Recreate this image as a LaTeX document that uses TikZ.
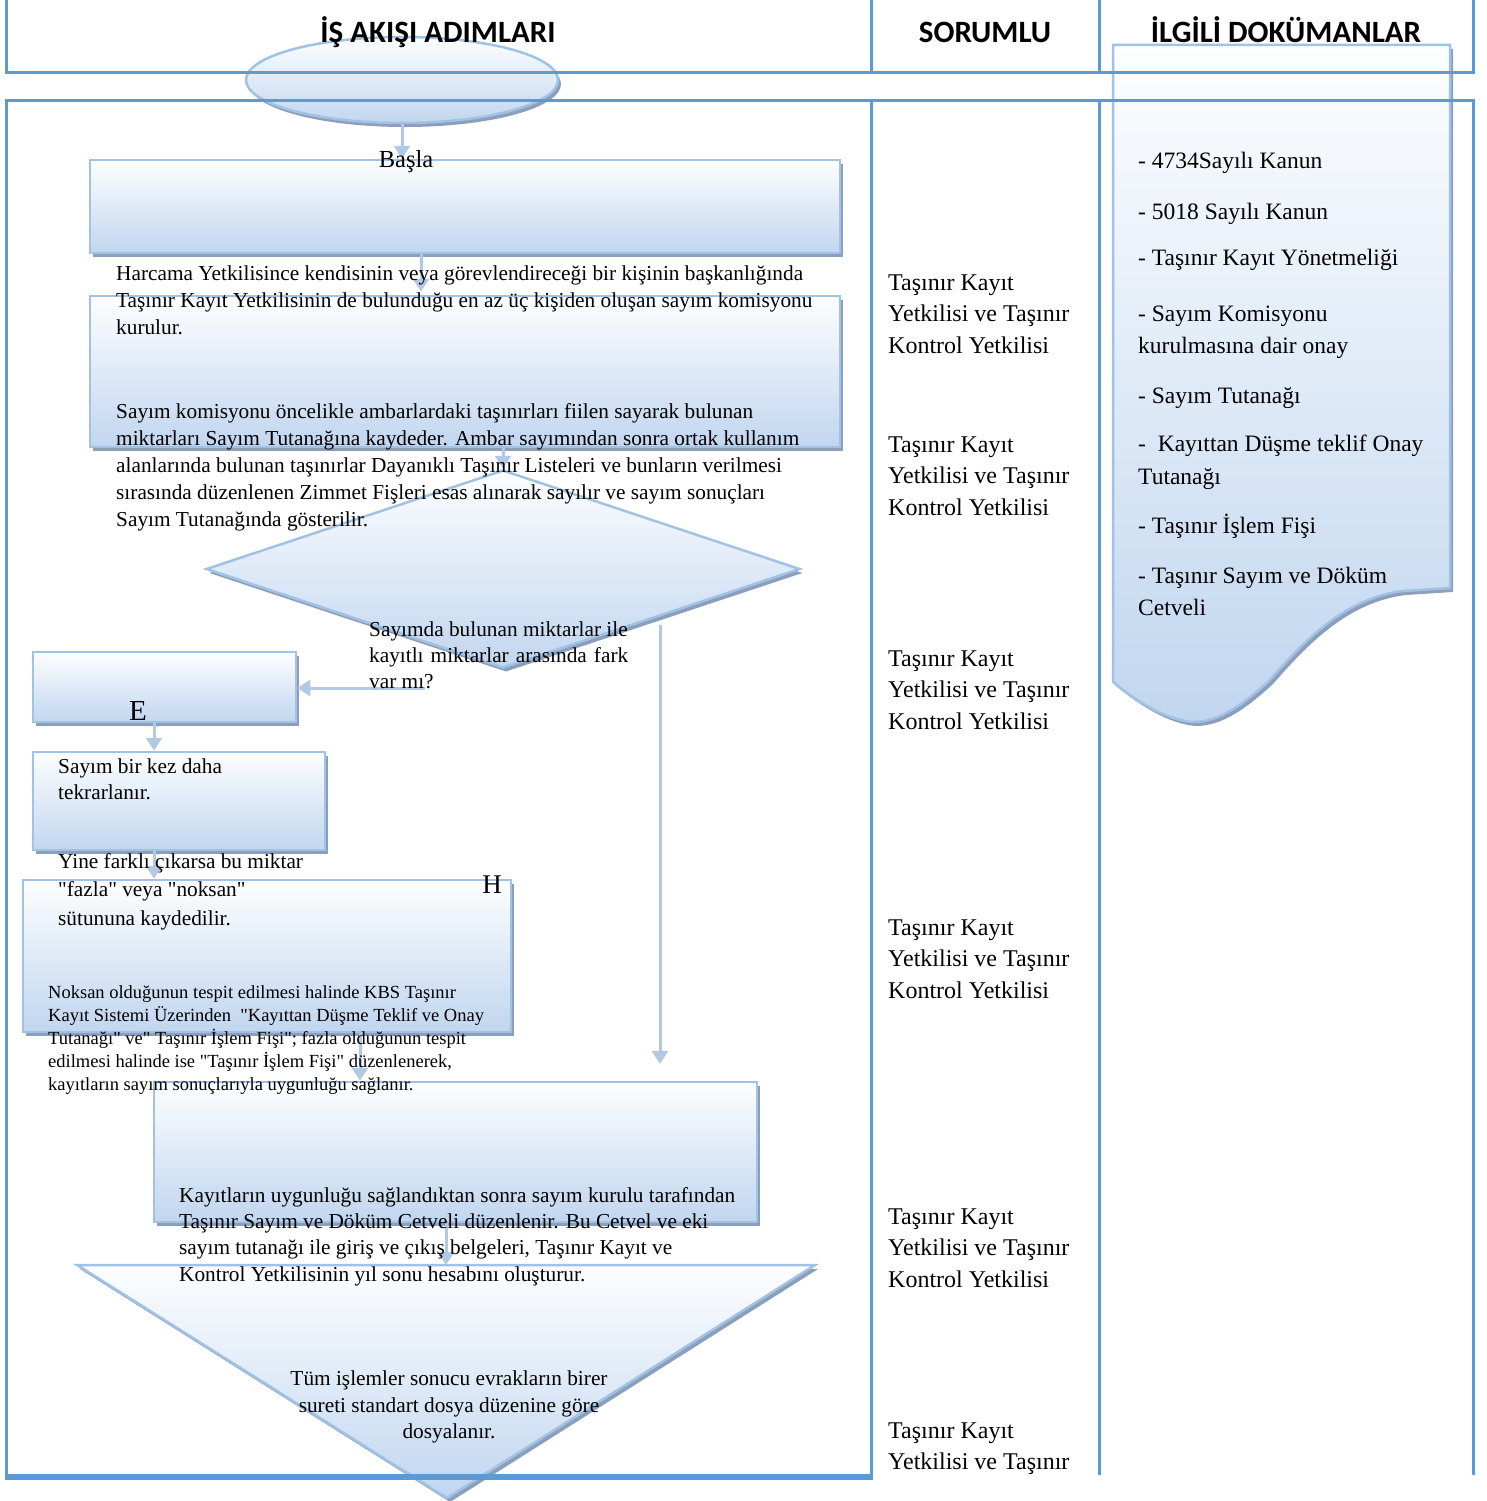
\documentclass[tikz,border=0pt]{standalone}
\usepackage{fontspec}
\setmainfont{Liberation Serif}[Ligatures=TeXOff]
\newfontfamily\hdrfont{Carlito}
\usetikzlibrary{arrows.meta,shapes.geometric,shadows,calc}
\definecolor{tblue}{RGB}{91,155,213}
\definecolor{sborder}{RGB}{160,194,229}
\definecolor{gbot}{RGB}{193,214,239}
\definecolor{gtop}{RGB}{253,254,255}
\definecolor{arrc}{RGB}{178,201,230}
\definecolor{shc}{RGB}{140,158,186}
\begin{document}
\begin{tikzpicture}[x=1pt,y=-1pt,
  tline/.style={draw=tblue, line width=3pt},
  shp/.style={draw=sborder, line width=2.5pt, top color=gtop, bottom color=gbot,
     drop shadow={shadow xshift=3pt, shadow yshift=-4pt, fill=shc, opacity=1}},
  boxnode/.style={shp, rectangle, inner sep=0pt},
  arr/.style={draw=arrc, line width=3pt, -{Triangle[width=16pt,length=13pt]}},
  txt/.style={anchor=north west, inner sep=0pt, align=left, font=\fontsize{21.3pt}{27pt}\selectfont},
  sor/.style={anchor=north west, inner sep=0pt, align=left, font=\fontsize{24pt}{31.5pt}\selectfont},
  hdr/.style={anchor=base, inner sep=0pt, font=\hdrfont\bfseries\fontsize{31pt}{31pt}\selectfont},
  big/.style={anchor=base, inner sep=0pt}
]
\useasboundingbox (0,0) rectangle (1487,1501);

% ---------- shapes ----------
\node[shp, ellipse, minimum width=312pt, minimum height=86pt, inner sep=0pt] (start) at (402,80) {};
\node[boxnode, minimum width=750pt, minimum height=93pt] (r1) at (465,206.5) {};
\node[boxnode, minimum width=750pt, minimum height=151pt] (r2) at (465,371.5) {};
\node[shp, diamond, minimum width=594pt, minimum height=198pt, inner sep=0pt] (dia) at (503,569) {};
\node[boxnode, minimum width=263pt, minimum height=70pt] (rE) at (164.5,687) {};
\node[boxnode, minimum width=292pt, minimum height=98pt] (rS) at (179,801) {};
\node[boxnode, minimum width=488pt, minimum height=152pt] (rH) at (267,956) {};
\node[boxnode, minimum width=603pt, minimum height=140pt] (rK) at (455.5,1152) {};

\coordinate (tL) at (77,1265);
\coordinate (tR) at (815,1265);
\coordinate (tB) at (447,1498);
\coordinate (tT) at (446,1265);
\path[shp] (tL) -- (tR) -- (tB) -- cycle;

% document shape
\path[shp] (1113,45) -- (1450,45) -- (1450,588) -- (1403,591)
   .. controls (1345,598) and (1305,640) .. (1270,680)
   .. controls (1245,703) and (1220,722) .. (1193,722)
   .. controls (1165,720) and (1135,700) .. (1113,682) -- cycle;

% ---------- connectors ----------
\coordinate (x1) at (421,0);
\coordinate (x5) at (154,0);
\coordinate (x7) at (360,0);
\coordinate (d1) at (425,688);
\coordinate (d2) at (660,625);
\coordinate (d2e) at (660,1064);
\draw[arr] (start.south) -- (r1.north -| start.south);
\draw[arr] (r1.south -| x1) -- ($(r2.north -| x1)+(0,-3)$);
\draw[arr] (r2.south -| dia.north) -- (dia.north);
\draw[arr] (d1) -- (rE.east |- d1);
\draw[arr] (d2) -- (d2e);
\draw[arr] (rE.south -| x5) -- (rS.north -| x5);
\draw[arr] (rS.south -| x5) -- (rH.north -| x5);
\draw[arr] (rH.south -| x7) -- (rK.north -| x7);
\draw[arr] (rK.south -| tT) -- (tT);

% ---------- table ----------
\draw[tline] (6,0) -- (6,73) -- (1473,73) -- (1473,0);
\draw[tline] (871,0) -- (871,73);
\draw[tline] (1099,0) -- (1099,73);
\draw[tline] (6,1476) -- (6,101) -- (1473,101) -- (1473,1475);
\draw[tline] (871,101) -- (871,1479);
\draw[tline] (1099,101) -- (1099,1475);
\draw[draw=tblue, line width=6pt] (4.5,1476.5) -- (872.5,1476.5);

% ---------- headers ----------
\node[hdr] (h1) at (438,43) {İŞ AKIŞI ADIMLARI};
\node[hdr] (h2) at (985,43) {SORUMLU};
\node[hdr] (h3) at (1286,43) {İLGİLİ DOKÜMANLAR};

% ---------- texts ----------
\node[big, font=\fontsize{24.5pt}{24.5pt}\selectfont] (basla) at (406,167) {Başla};
\node[big, font=\fontsize{29pt}{29pt}\selectfont] (lE) at (138,720) {E};
\node[big, font=\fontsize{27pt}{27pt}\selectfont] (lH) at (492,893) {H};

\node[txt] (t1) at (116,266) {Harcama Yetkilisince kendisinin veya görevlendireceği bir kişinin başkanlığında\\Taşınır Kayıt Yetkilisinin de bulunduğu en az üç kişiden oluşan sayım komisyonu\\kurulur.};
\node[txt] (t2) at (116,403) {Sayım komisyonu öncelikle ambarlardaki taşınırları fiilen sayarak bulunan\\miktarları Sayım Tutanağına kaydeder. Ambar sayımından sonra ortak kullanım\\alanlarında bulunan taşınırlar Dayanıklı Taşınır Listeleri ve bunların verilmesi\\sırasında düzenlenen Zimmet Fişleri esas alınarak sayılır ve sayım sonuçları\\Sayım Tutanağında gösterilir.};
\node[txt, font=\fontsize{21.3pt}{26pt}\selectfont] (t3) at (369,622) {Sayımda bulunan miktarlar ile\\\makebox[259pt][s]{kayıtlı miktarlar arasında fark}\\var mı?};
\node[txt, font=\fontsize{21.3pt}{26pt}\selectfont] (t4) at (58,759) {Sayım bir kez daha\\tekrarlanır.};
\node[txt, font=\fontsize{21.3pt}{28.5pt}\selectfont] (t5) at (58,853) {Yine farklı çıkarsa bu miktar\\"fazla" veya "noksan"\\sütununa kaydedilir.};
\node[txt, font=\fontsize{18.5pt}{23pt}\selectfont] (t6) at (48,985) {Noksan olduğunun tespit edilmesi halinde KBS Taşınır\\Kayıt Sistemi Üzerinden\ \ "Kayıttan Düşme Teklif ve Onay\\Tutanağı" ve" Taşınır İşlem Fişi"; fazla olduğunun tespit\\edilmesi halinde ise "Taşınır İşlem Fişi" düzenlenerek,\\kayıtların sayım sonuçlarıyla uygunluğu sağlanır.};
\node[txt, font=\fontsize{21.3pt}{26.3pt}\selectfont] (t7) at (179,1187) {Kayıtların uygunluğu sağlandıktan sonra sayım kurulu tarafından\\Taşınır Sayım ve Döküm Cetveli düzenlenir. Bu Cetvel ve eki\\sayım tutanağı ile giriş ve çıkış belgeleri, Taşınır Kayıt ve\\Kontrol Yetkilisinin yıl sonu hesabını oluşturur.};
\node[txt, anchor=north, align=center, font=\fontsize{21.3pt}{26.5pt}\selectfont] (t8) at (449,1371) {Tüm işlemler sonucu evrakların birer\\sureti standart dosya düzenine göre\\dosyalanır.};

\node[sor] (s1) at (888,274.5) {Taşınır Kayıt\\Yetkilisi ve Taşınır\\Kontrol Yetkilisi};
\node[sor] (s2) at (888,436.5) {Taşınır Kayıt\\Yetkilisi ve Taşınır\\Kontrol Yetkilisi};
\node[sor] (s3) at (888,650.5) {Taşınır Kayıt\\Yetkilisi ve Taşınır\\Kontrol Yetkilisi};
\node[sor] (s4) at (888,919.5) {Taşınır Kayıt\\Yetkilisi ve Taşınır\\Kontrol Yetkilisi};
\node[sor] (s5) at (888,1208.5) {Taşınır Kayıt\\Yetkilisi ve Taşınır\\Kontrol Yetkilisi};
\node[sor] (s6) at (888,1422.5) {Taşınır Kayıt\\Yetkilisi ve Taşınır};

\node[anchor=north west, inner sep=0pt, align=left, font=\fontsize{23.5pt}{32pt}\selectfont] (docs) at (1138,151.5)
 {- 4734Sayılı Kanun\\[19pt]- 5018 Sayılı Kanun\\[14pt]- Taşınır Kayıt Yönetmeliği\\[24pt]- Sayım Komisyonu\\kurulmasına dair onay\\[18pt]- Sayım Tutanağı\\[16pt]-\ \ Kayıttan Düşme teklif Onay\\[1pt]Tutanağı\\[17pt]- Taşınır İşlem Fişi\\[18pt]- Taşınır Sayım ve Döküm\\Cetveli};
\end{tikzpicture}
\end{document}
